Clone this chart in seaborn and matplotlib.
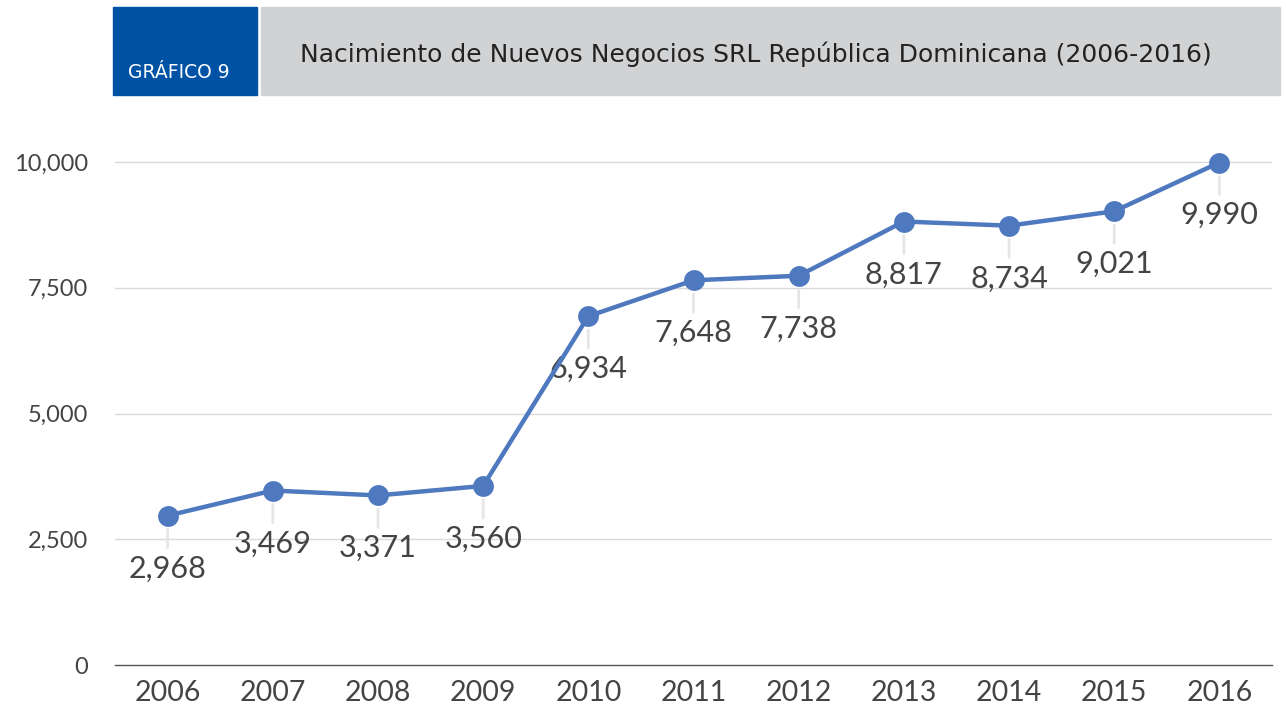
import matplotlib
matplotlib.use("Agg")
import matplotlib.pyplot as plt
import matplotlib.patches as mpatches
import seaborn as sns
import pandas as pd

# Datos
years = ["2006", "2007", "2008", "2009", "2010", "2011", "2012", "2013", "2014", "2015", "2016"]
values = [2968, 3469, 3371, 3560, 6934, 7648, 7738, 8817, 8734, 9021, 9990]
yticks = [0, 2500, 5000, 7500, 10000]

df = pd.DataFrame({"year": years, "value": values})

sns.set_theme(style="white")
plt.rcParams["font.family"] = ["Lato", "DejaVu Sans"]

fig = plt.figure(figsize=(12.86, 7.07), dpi=100)
ax = fig.add_axes([115 / 1286, 1 - 665 / 707, (1272 - 115) / 1286, (665 - 140) / 707])

blue = "#4F79BF"
sns.lineplot(data=df, x="year", y="value", ax=ax, color=blue, linewidth=3.2,
             marker="o", markersize=15, markeredgewidth=0, sort=False, zorder=5)

ax.set_xlim(-0.5, len(years) - 0.5)
ax.set_ylim(0, 10000 * (665 - 140) / (665 - 162))
ax.set_yticks(yticks)
ax.set_yticklabels([f"{v:,}" for v in yticks], fontsize=17, color="#444444")
ax.set_xticks(range(len(years)))
ax.set_xticklabels(years, fontsize=20.5, color="#444444")
ax.tick_params(axis="x", length=0, pad=11)
ax.tick_params(axis="y", length=0, pad=19.5)
ax.set_xlabel("")
ax.set_ylabel("")
for yv in yticks[1:]:
    ax.axhline(yv, color="#D9D9D9", linewidth=1, zorder=0)
for s in ["top", "right", "left"]:
    ax.spines[s].set_visible(False)
ax.spines["bottom"].set_color("#555555")
ax.spines["bottom"].set_linewidth(1)

# Etiquetas de datos con linea guia
for i, v in enumerate(values):
    ax.annotate("", xy=(i, v), xytext=(0, -23), textcoords="offset points",
                arrowprops=dict(arrowstyle="-", color="#E6E6E6", lw=2.0,
                                shrinkA=0, shrinkB=10),
                annotation_clip=False, zorder=1)
    ax.annotate(f"{v:,}", xy=(i, v), xytext=(0, -38), textcoords="offset points",
                ha="center", va="center", fontsize=22, color="#444444")

# Encabezado
fig.patches.append(mpatches.Rectangle((113 / 1286, 1 - 95 / 707), 144 / 1286, 88 / 707,
                                      transform=fig.transFigure, color="#0053A4", zorder=0))
fig.patches.append(mpatches.Rectangle((261 / 1286, 1 - 95 / 707), 1019 / 1286, 88 / 707,
                                      transform=fig.transFigure, color="#D1D2D4", zorder=0))
fig.text(128 / 1286, 1 - 73 / 707, "GRÁFICO 9", color="white", fontsize=13.5,
         va="center", ha="left", family=["DejaVu Sans"])
fig.text(300 / 1286, 1 - 54 / 707, "Nacimiento de Nuevos Negocios SRL República Dominicana (2006-2016)",
         color="#222222", fontsize=18, va="center", ha="left",
         family=["DejaVu Sans"])

fig.savefig("out.png", dpi=100)
